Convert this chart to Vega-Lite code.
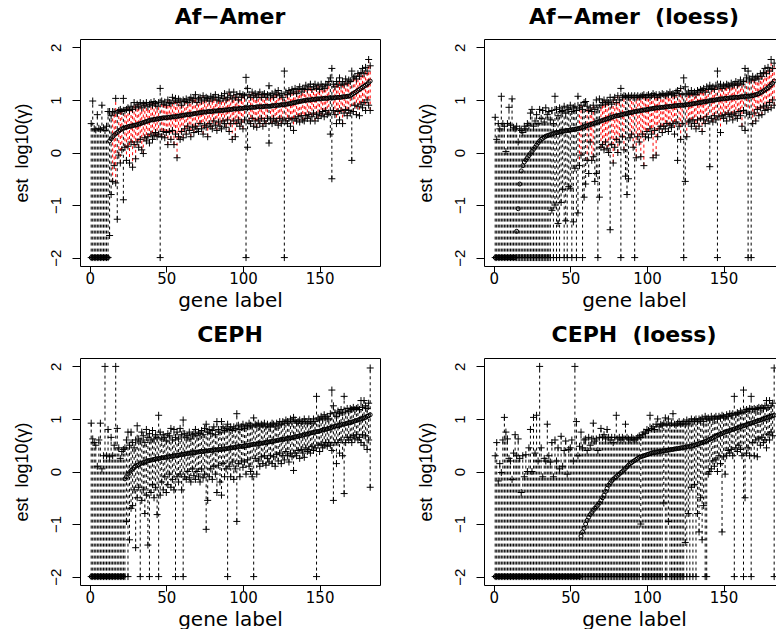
{
"$schema":"https://vega.github.io/schema/vega-lite/v6.json",
"padding":{"left":12,"top":5,"right":0,"bottom":0},
"background":"white",
"config":{"view":{"stroke":"black","strokeWidth":1},"axis":{"grid":false,"domainColor":"black","tickColor":"black","labelColor":"black","titleColor":"black","titleFontWeight":"normal","domainWidth":1,"tickWidth":1,"labelFlush":false},"axisX":{"labelFont":"DejaVu Sans","labelFontSize":15,"titleFont":"DejaVu Sans","titleFontSize":20},"axisY":{"labelFont":"Liberation Sans","labelFontSize":15,"titleFont":"Liberation Sans","titleFontSize":18}},
"datasets":{
"afamer":[{"g":1,"e":-2,"l":-2,"h":0.55,"c":"k"},{"g":2,"e":-2,"l":-2,"h":0.98,"c":"k"},{"g":3,"e":-2,"l":-2,"h":0.45,"c":"k"},{"g":4,"e":-2,"l":-2,"h":0.43,"c":"k"},{"g":5,"e":-2,"l":-2,"h":0.72,"c":"k"},{"g":6,"e":-2,"l":-2,"h":0.46,"c":"k"},{"g":7,"e":-2,"l":-2,"h":0.44,"c":"k"},{"g":8,"e":-2,"l":-2,"h":0.9,"c":"k"},{"g":9,"e":-2,"l":-2,"h":0.47,"c":"k"},{"g":10,"e":-2,"l":-2,"h":0.42,"c":"k"},{"g":11,"e":-2,"l":-2,"h":0.5,"c":"k"},{"g":12,"e":-2,"l":-2,"h":0.78,"c":"k"},{"g":13,"e":0.22,"l":-1.58,"h":0.78,"c":"k"},{"g":14,"e":0.26,"l":-0.8,"h":0.7,"c":"k"},{"g":15,"e":0.3,"l":-0.55,"h":0.78,"c":"r"},{"g":16,"e":0.33,"l":-0.25,"h":0.77,"c":"r"},{"g":17,"e":0.36,"l":-0.58,"h":1.03,"c":"r"},{"g":18,"e":0.38,"l":-1.27,"h":0.75,"c":"k"},{"g":19,"e":0.41,"l":-0.05,"h":0.8,"c":"r"},{"g":20,"e":0.43,"l":-0.2,"h":0.82,"c":"r"},{"g":21,"e":0.45,"l":0.05,"h":0.78,"c":"r"},{"g":22,"e":0.46,"l":-0.9,"h":1.03,"c":"k"},{"g":23,"e":0.47,"l":0.1,"h":0.8,"c":"r"},{"g":24,"e":0.48,"l":-0.15,"h":0.82,"c":"r"},{"g":25,"e":0.49,"l":0.12,"h":0.85,"c":"r"},{"g":26,"e":0.5,"l":-0.2,"h":0.8,"c":"r"},{"g":27,"e":0.5,"l":0.2,"h":0.88,"c":"r"},{"g":28,"e":0.51,"l":-0.28,"h":0.82,"c":"r"},{"g":29,"e":0.52,"l":0.15,"h":0.95,"c":"r"},{"g":30,"e":0.52,"l":-0.12,"h":0.85,"c":"r"},{"g":31,"e":0.53,"l":0.2,"h":0.92,"c":"r"},{"g":32,"e":0.54,"l":0.1,"h":0.88,"c":"r"},{"g":33,"e":0.55,"l":0.25,"h":0.95,"c":"r"},{"g":34,"e":0.56,"l":0.05,"h":0.85,"c":"r"},{"g":35,"e":0.57,"l":-0.02,"h":0.93,"c":"r"},{"g":36,"e":0.58,"l":0.28,"h":0.9,"c":"r"},{"g":37,"e":0.59,"l":0.22,"h":0.95,"c":"r"},{"g":38,"e":0.6,"l":0.3,"h":0.87,"c":"r"},{"g":39,"e":0.61,"l":0.18,"h":0.92,"c":"r"},{"g":40,"e":0.62,"l":0.35,"h":0.95,"c":"r"},{"g":41,"e":0.62,"l":0.25,"h":0.9,"c":"r"},{"g":42,"e":0.63,"l":0.32,"h":0.97,"c":"r"},{"g":43,"e":0.63,"l":0.38,"h":0.93,"c":"r"},{"g":44,"e":0.64,"l":0.3,"h":0.88,"c":"r"},{"g":45,"e":0.64,"l":0.35,"h":0.95,"c":"r"},{"g":46,"e":0.65,"l":-2,"h":1.22,"c":"k"},{"g":47,"e":0.65,"l":0.3,"h":0.98,"c":"r"},{"g":48,"e":0.66,"l":0.4,"h":0.92,"c":"r"},{"g":49,"e":0.66,"l":0.28,"h":0.96,"c":"r"},{"g":50,"e":0.66,"l":0.38,"h":0.9,"c":"r"},{"g":51,"e":0.67,"l":0.15,"h":1.0,"c":"r"},{"g":52,"e":0.67,"l":0.4,"h":0.95,"c":"r"},{"g":53,"e":0.67,"l":0.25,"h":0.93,"c":"r"},{"g":54,"e":0.68,"l":0.42,"h":1.05,"c":"r"},{"g":55,"e":0.68,"l":0.15,"h":0.98,"c":"r"},{"g":56,"e":0.68,"l":0.35,"h":1.03,"c":"r"},{"g":57,"e":0.69,"l":-0.1,"h":0.95,"c":"r"},{"g":58,"e":0.69,"l":0.3,"h":1.02,"c":"r"},{"g":59,"e":0.7,"l":0.25,"h":0.98,"c":"r"},{"g":60,"e":0.7,"l":0.4,"h":0.9,"c":"r"},{"g":61,"e":0.71,"l":0.28,"h":1.0,"c":"r"},{"g":62,"e":0.71,"l":0.45,"h":0.97,"c":"r"},{"g":63,"e":0.72,"l":0.35,"h":1.02,"c":"r"},{"g":64,"e":0.72,"l":0.5,"h":0.95,"c":"r"},{"g":65,"e":0.72,"l":0.42,"h":1.0,"c":"r"},{"g":66,"e":0.73,"l":0.3,"h":1.05,"c":"r"},{"g":67,"e":0.73,"l":0.48,"h":0.98,"c":"r"},{"g":68,"e":0.74,"l":0.38,"h":1.03,"c":"r"},{"g":69,"e":0.74,"l":0.5,"h":1.1,"c":"r"},{"g":70,"e":0.75,"l":0.45,"h":0.95,"c":"r"},{"g":71,"e":0.75,"l":0.4,"h":1.02,"c":"r"},{"g":72,"e":0.76,"l":0.55,"h":1.05,"c":"r"},{"g":73,"e":0.76,"l":0.45,"h":0.98,"c":"r"},{"g":74,"e":0.77,"l":0.35,"h":1.08,"c":"r"},{"g":75,"e":0.77,"l":0.52,"h":1.0,"c":"r"},{"g":76,"e":0.77,"l":0.48,"h":1.05,"c":"r"},{"g":77,"e":0.78,"l":0.3,"h":1.03,"c":"r"},{"g":78,"e":0.78,"l":0.55,"h":0.98,"c":"r"},{"g":79,"e":0.78,"l":0.5,"h":1.07,"c":"r"},{"g":80,"e":0.78,"l":0.45,"h":1.02,"c":"r"},{"g":81,"e":0.79,"l":0.6,"h":1.05,"c":"r"},{"g":82,"e":0.79,"l":0.52,"h":1.1,"c":"r"},{"g":83,"e":0.79,"l":0.42,"h":1.0,"c":"r"},{"g":84,"e":0.8,"l":0.58,"h":1.05,"c":"r"},{"g":85,"e":0.8,"l":0.5,"h":0.98,"c":"r"},{"g":86,"e":0.8,"l":0.45,"h":1.08,"c":"r"},{"g":87,"e":0.8,"l":0.6,"h":1.03,"c":"r"},{"g":88,"e":0.81,"l":0.55,"h":1.12,"c":"r"},{"g":89,"e":0.81,"l":0.48,"h":1.0,"c":"r"},{"g":90,"e":0.81,"l":0.62,"h":1.05,"c":"r"},{"g":91,"e":0.82,"l":0.4,"h":1.15,"c":"r"},{"g":92,"e":0.82,"l":0.55,"h":1.08,"c":"r"},{"g":93,"e":0.82,"l":0.25,"h":1.02,"c":"r"},{"g":94,"e":0.83,"l":0.6,"h":1.15,"c":"r"},{"g":95,"e":0.83,"l":0.3,"h":1.05,"c":"r"},{"g":96,"e":0.83,"l":0.55,"h":1.1,"c":"r"},{"g":97,"e":0.83,"l":0.62,"h":1.0,"c":"r"},{"g":98,"e":0.84,"l":0.5,"h":1.12,"c":"r"},{"g":99,"e":0.84,"l":0.58,"h":1.05,"c":"r"},{"g":100,"e":0.84,"l":0.45,"h":1.1,"c":"r"},{"g":101,"e":0.85,"l":0.62,"h":1.08,"c":"r"},{"g":102,"e":0.85,"l":-2,"h":1.43,"c":"k"},{"g":103,"e":0.85,"l":0.1,"h":1.22,"c":"k"},{"g":104,"e":0.85,"l":0.6,"h":1.1,"c":"r"},{"g":105,"e":0.86,"l":0.55,"h":1.05,"c":"r"},{"g":106,"e":0.86,"l":0.65,"h":1.15,"c":"r"},{"g":107,"e":0.86,"l":0.5,"h":1.08,"c":"r"},{"g":108,"e":0.86,"l":0.6,"h":1.12,"c":"r"},{"g":109,"e":0.87,"l":0.48,"h":1.05,"c":"r"},{"g":110,"e":0.87,"l":0.62,"h":1.1,"c":"r"},{"g":111,"e":0.87,"l":0.55,"h":1.15,"c":"r"},{"g":112,"e":0.87,"l":0.65,"h":1.05,"c":"r"},{"g":113,"e":0.87,"l":0.5,"h":1.1,"c":"r"},{"g":114,"e":0.88,"l":0.6,"h":1.12,"c":"r"},{"g":115,"e":0.88,"l":0.55,"h":1.05,"c":"r"},{"g":116,"e":0.88,"l":0.65,"h":1.1,"c":"r"},{"g":117,"e":0.88,"l":0.18,"h":1.27,"c":"k"},{"g":118,"e":0.88,"l":0.62,"h":1.08,"c":"r"},{"g":119,"e":0.89,"l":0.55,"h":1.12,"c":"r"},{"g":120,"e":0.89,"l":0.65,"h":1.05,"c":"r"},{"g":121,"e":0.89,"l":0.58,"h":1.15,"c":"r"},{"g":122,"e":0.9,"l":0.6,"h":1.1,"c":"r"},{"g":123,"e":0.9,"l":0.52,"h":1.18,"c":"r"},{"g":124,"e":0.9,"l":0.65,"h":1.08,"c":"r"},{"g":125,"e":0.91,"l":0.55,"h":1.12,"c":"r"},{"g":126,"e":0.91,"l":0.62,"h":1.05,"c":"r"},{"g":127,"e":0.91,"l":-2,"h":1.55,"c":"k"},{"g":128,"e":0.92,"l":0.6,"h":1.15,"c":"r"},{"g":129,"e":0.92,"l":0.55,"h":1.1,"c":"r"},{"g":130,"e":0.93,"l":0.65,"h":1.18,"c":"r"},{"g":131,"e":0.93,"l":0.5,"h":1.12,"c":"r"},{"g":132,"e":0.94,"l":0.62,"h":1.2,"c":"r"},{"g":133,"e":0.95,"l":0.42,"h":1.15,"c":"r"},{"g":134,"e":0.95,"l":0.65,"h":1.22,"c":"r"},{"g":135,"e":0.96,"l":0.6,"h":1.12,"c":"r"},{"g":136,"e":0.97,"l":0.68,"h":1.2,"c":"r"},{"g":137,"e":0.97,"l":0.58,"h":1.25,"c":"r"},{"g":138,"e":0.98,"l":0.7,"h":1.15,"c":"r"},{"g":139,"e":0.98,"l":0.62,"h":1.22,"c":"r"},{"g":140,"e":0.99,"l":0.6,"h":1.2,"c":"r"},{"g":141,"e":0.99,"l":0.7,"h":1.28,"c":"r"},{"g":142,"e":1.0,"l":0.65,"h":1.2,"c":"r"},{"g":143,"e":1.0,"l":0.72,"h":1.25,"c":"r"},{"g":144,"e":1.0,"l":0.6,"h":1.3,"c":"r"},{"g":145,"e":1.01,"l":0.68,"h":1.2,"c":"r"},{"g":146,"e":1.01,"l":0.75,"h":1.25,"c":"r"},{"g":147,"e":1.01,"l":0.6,"h":1.3,"c":"r"},{"g":148,"e":1.02,"l":0.72,"h":1.22,"c":"r"},{"g":149,"e":1.02,"l":0.65,"h":1.28,"c":"r"},{"g":150,"e":1.02,"l":0.75,"h":1.2,"c":"r"},{"g":151,"e":1.02,"l":0.7,"h":1.3,"c":"r"},{"g":152,"e":1.03,"l":0.78,"h":1.25,"c":"r"},{"g":153,"e":1.03,"l":0.68,"h":1.22,"c":"r"},{"g":154,"e":1.03,"l":0.8,"h":1.3,"c":"r"},{"g":155,"e":1.03,"l":0.72,"h":1.28,"c":"r"},{"g":156,"e":1.04,"l":0.75,"h":1.35,"c":"r"},{"g":157,"e":1.04,"l":0.35,"h":1.42,"c":"k"},{"g":158,"e":1.04,"l":-0.5,"h":1.6,"c":"k"},{"g":159,"e":1.04,"l":0.8,"h":1.3,"c":"r"},{"g":160,"e":1.04,"l":0.72,"h":1.25,"c":"r"},{"g":161,"e":1.05,"l":0.55,"h":1.35,"c":"r"},{"g":162,"e":1.05,"l":0.78,"h":1.3,"c":"r"},{"g":163,"e":1.05,"l":0.62,"h":1.42,"c":"r"},{"g":164,"e":1.05,"l":0.8,"h":1.28,"c":"r"},{"g":165,"e":1.06,"l":0.55,"h":1.35,"c":"r"},{"g":166,"e":1.06,"l":0.75,"h":1.3,"c":"r"},{"g":167,"e":1.06,"l":0.82,"h":1.4,"c":"r"},{"g":168,"e":1.07,"l":0.7,"h":1.32,"c":"r"},{"g":169,"e":1.07,"l":0.8,"h":1.38,"c":"r"},{"g":170,"e":1.08,"l":0.75,"h":1.35,"c":"r"},{"g":171,"e":1.1,"l":-0.15,"h":1.55,"c":"k"},{"g":172,"e":1.12,"l":0.78,"h":1.42,"c":"r"},{"g":173,"e":1.14,"l":0.9,"h":1.45,"c":"r"},{"g":174,"e":1.16,"l":0.72,"h":1.4,"c":"r"},{"g":175,"e":1.18,"l":0.88,"h":1.5,"c":"r"},{"g":176,"e":1.2,"l":0.7,"h":1.45,"c":"r"},{"g":177,"e":1.22,"l":0.92,"h":1.52,"c":"r"},{"g":178,"e":1.24,"l":0.85,"h":1.6,"c":"r"},{"g":179,"e":1.26,"l":0.95,"h":1.5,"c":"r"},{"g":180,"e":1.28,"l":0.8,"h":1.62,"c":"r"},{"g":181,"e":1.3,"l":1.0,"h":1.55,"c":"r"},{"g":182,"e":1.33,"l":0.9,"h":1.77,"c":"r"},{"g":183,"e":1.36,"l":0.8,"h":1.65,"c":"r"}],
"afamerl":[{"g":1,"e":-2,"l":-2,"h":0.67,"c":"k"},{"g":2,"e":-2,"l":-2,"h":0.25,"c":"k"},{"g":3,"e":-2,"l":-2,"h":0.55,"c":"k"},{"g":4,"e":-2,"l":-2,"h":0.45,"c":"k"},{"g":5,"e":-2,"l":-2,"h":1.07,"c":"k"},{"g":6,"e":-2,"l":-2,"h":0.55,"c":"k"},{"g":7,"e":-2,"l":-2,"h":0.5,"c":"k"},{"g":8,"e":-2,"l":-2,"h":0.02,"c":"k"},{"g":9,"e":-2,"l":-2,"h":0.55,"c":"k"},{"g":10,"e":-2,"l":-2,"h":0.86,"c":"k"},{"g":11,"e":-2,"l":-2,"h":0.52,"c":"k"},{"g":12,"e":-2,"l":-2,"h":1.02,"c":"k"},{"g":13,"e":-2,"l":-2,"h":0.48,"c":"k"},{"g":14,"e":-2,"l":-2,"h":0.45,"c":"k"},{"g":15,"e":-1.5,"l":-2,"h":0.5,"c":"k"},{"g":16,"e":-1.07,"l":-2,"h":0.2,"c":"k"},{"g":17,"e":-0.6,"l":-2,"h":0.45,"c":"k"},{"g":18,"e":-0.35,"l":-2,"h":0.42,"c":"k"},{"g":19,"e":-0.25,"l":-2,"h":0.38,"c":"k"},{"g":20,"e":-0.18,"l":-2,"h":0.5,"c":"k"},{"g":21,"e":-0.14,"l":-2,"h":0.45,"c":"k"},{"g":22,"e":-0.1,"l":-2,"h":0.55,"c":"k"},{"g":23,"e":-0.06,"l":-2,"h":0.52,"c":"k"},{"g":24,"e":-0.02,"l":-2,"h":0.75,"c":"k"},{"g":25,"e":0.02,"l":-2,"h":0.82,"c":"k"},{"g":26,"e":0.06,"l":-2,"h":0.5,"c":"k"},{"g":27,"e":0.1,"l":-2,"h":0.6,"c":"k"},{"g":28,"e":0.14,"l":-2,"h":0.72,"c":"k"},{"g":29,"e":0.18,"l":-2,"h":0.55,"c":"k"},{"g":30,"e":0.22,"l":-2,"h":0.82,"c":"k"},{"g":31,"e":0.25,"l":-2,"h":0.65,"c":"k"},{"g":32,"e":0.27,"l":-2,"h":0.8,"c":"k"},{"g":33,"e":0.29,"l":-2,"h":0.58,"c":"k"},{"g":34,"e":0.31,"l":-2,"h":0.85,"c":"k"},{"g":35,"e":0.32,"l":-2,"h":0.72,"c":"k"},{"g":36,"e":0.33,"l":-2,"h":0.78,"c":"k"},{"g":37,"e":0.34,"l":-2,"h":0.62,"c":"k"},{"g":38,"e":0.35,"l":-1.1,"h":0.8,"c":"k"},{"g":39,"e":0.36,"l":-2,"h":0.55,"c":"k"},{"g":40,"e":0.37,"l":-1.0,"h":1.07,"c":"k"},{"g":41,"e":0.38,"l":-2,"h":0.82,"c":"k"},{"g":42,"e":0.38,"l":-1.35,"h":0.7,"c":"k"},{"g":43,"e":0.39,"l":-2,"h":0.85,"c":"k"},{"g":44,"e":0.4,"l":-0.95,"h":0.78,"c":"k"},{"g":45,"e":0.4,"l":-0.7,"h":0.8,"c":"k"},{"g":46,"e":0.41,"l":-2,"h":0.88,"c":"k"},{"g":47,"e":0.41,"l":-1.3,"h":0.75,"c":"k"},{"g":48,"e":0.42,"l":-2,"h":0.85,"c":"k"},{"g":49,"e":0.42,"l":-0.65,"h":0.82,"c":"k"},{"g":50,"e":0.43,"l":-0.68,"h":0.9,"c":"k"},{"g":51,"e":0.43,"l":-2,"h":0.78,"c":"k"},{"g":52,"e":0.44,"l":-1.32,"h":0.85,"c":"k"},{"g":53,"e":0.44,"l":-0.3,"h":0.88,"c":"k"},{"g":54,"e":0.45,"l":-2,"h":0.8,"c":"k"},{"g":55,"e":0.45,"l":-1.15,"h":1.07,"c":"k"},{"g":56,"e":0.46,"l":-0.25,"h":0.85,"c":"r"},{"g":57,"e":0.47,"l":-0.05,"h":0.9,"c":"r"},{"g":58,"e":0.48,"l":-2,"h":0.82,"c":"k"},{"g":59,"e":0.49,"l":-0.85,"h":0.95,"c":"k"},{"g":60,"e":0.5,"l":-0.6,"h":0.97,"c":"k"},{"g":61,"e":0.51,"l":-0.15,"h":0.88,"c":"r"},{"g":62,"e":0.52,"l":-0.4,"h":0.8,"c":"k"},{"g":63,"e":0.53,"l":0.2,"h":0.85,"c":"r"},{"g":64,"e":0.54,"l":-0.15,"h":0.78,"c":"r"},{"g":65,"e":0.55,"l":-0.08,"h":0.9,"c":"r"},{"g":66,"e":0.56,"l":-0.55,"h":0.82,"c":"k"},{"g":67,"e":0.57,"l":-0.4,"h":1.0,"c":"k"},{"g":68,"e":0.58,"l":-2,"h":0.85,"c":"k"},{"g":69,"e":0.59,"l":-0.85,"h":1.02,"c":"k"},{"g":70,"e":0.6,"l":0.1,"h":0.9,"c":"r"},{"g":71,"e":0.61,"l":0.15,"h":0.95,"c":"r"},{"g":72,"e":0.62,"l":0.05,"h":1.0,"c":"r"},{"g":73,"e":0.63,"l":0.2,"h":0.92,"c":"r"},{"g":74,"e":0.64,"l":0.08,"h":0.98,"c":"r"},{"g":75,"e":0.65,"l":0.0,"h":0.95,"c":"r"},{"g":76,"e":0.66,"l":-1.47,"h":1.05,"c":"k"},{"g":77,"e":0.67,"l":0.15,"h":0.92,"c":"r"},{"g":78,"e":0.68,"l":-0.2,"h":1.0,"c":"r"},{"g":79,"e":0.69,"l":0.1,"h":1.05,"c":"r"},{"g":80,"e":0.7,"l":0.25,"h":0.95,"c":"r"},{"g":81,"e":0.7,"l":0.0,"h":1.08,"c":"r"},{"g":82,"e":0.71,"l":0.2,"h":1.0,"c":"r"},{"g":83,"e":0.72,"l":-2,"h":1.22,"c":"k"},{"g":84,"e":0.72,"l":0.3,"h":1.05,"c":"r"},{"g":85,"e":0.73,"l":0.05,"h":1.08,"c":"r"},{"g":86,"e":0.74,"l":-0.45,"h":1.07,"c":"k"},{"g":87,"e":0.74,"l":-0.8,"h":1.05,"c":"k"},{"g":88,"e":0.75,"l":-0.5,"h":1.08,"c":"k"},{"g":89,"e":0.76,"l":0.28,"h":1.05,"c":"r"},{"g":90,"e":0.76,"l":0.35,"h":1.08,"c":"r"},{"g":91,"e":0.77,"l":0.1,"h":1.05,"c":"r"},{"g":92,"e":0.78,"l":-2,"h":1.08,"c":"k"},{"g":93,"e":0.78,"l":-0.1,"h":1.05,"c":"r"},{"g":94,"e":0.79,"l":0.3,"h":1.08,"c":"r"},{"g":95,"e":0.79,"l":0.2,"h":1.05,"c":"r"},{"g":96,"e":0.8,"l":-0.08,"h":1.07,"c":"r"},{"g":97,"e":0.8,"l":0.35,"h":1.08,"c":"r"},{"g":98,"e":0.81,"l":-0.25,"h":1.1,"c":"r"},{"g":99,"e":0.81,"l":0.3,"h":1.05,"c":"r"},{"g":100,"e":0.82,"l":0.4,"h":1.08,"c":"r"},{"g":101,"e":0.82,"l":0.28,"h":1.1,"c":"r"},{"g":102,"e":0.83,"l":0.45,"h":1.05,"c":"r"},{"g":103,"e":0.83,"l":0.35,"h":1.08,"c":"r"},{"g":104,"e":0.84,"l":-0.1,"h":1.12,"c":"r"},{"g":105,"e":0.84,"l":0.42,"h":1.08,"c":"r"},{"g":106,"e":0.85,"l":-0.05,"h":1.1,"c":"r"},{"g":107,"e":0.85,"l":0.3,"h":1.05,"c":"r"},{"g":108,"e":0.85,"l":0.45,"h":1.1,"c":"r"},{"g":109,"e":0.86,"l":0.5,"h":1.08,"c":"r"},{"g":110,"e":0.86,"l":0.38,"h":1.12,"c":"r"},{"g":111,"e":0.86,"l":0.5,"h":1.1,"c":"r"},{"g":112,"e":0.87,"l":0.45,"h":1.08,"c":"r"},{"g":113,"e":0.87,"l":0.55,"h":1.12,"c":"r"},{"g":114,"e":0.87,"l":0.4,"h":1.1,"c":"r"},{"g":115,"e":0.88,"l":0.52,"h":1.15,"c":"r"},{"g":116,"e":0.88,"l":0.48,"h":1.1,"c":"r"},{"g":117,"e":0.88,"l":0.55,"h":1.12,"c":"r"},{"g":118,"e":0.89,"l":0.35,"h":1.08,"c":"r"},{"g":119,"e":0.89,"l":0.58,"h":1.15,"c":"r"},{"g":120,"e":0.89,"l":-0.15,"h":1.18,"c":"k"},{"g":121,"e":0.9,"l":0.5,"h":1.12,"c":"r"},{"g":122,"e":0.9,"l":0.25,"h":1.22,"c":"r"},{"g":123,"e":0.9,"l":0.55,"h":1.1,"c":"r"},{"g":124,"e":0.9,"l":-2,"h":1.42,"c":"k"},{"g":125,"e":0.91,"l":-0.55,"h":1.25,"c":"k"},{"g":126,"e":0.91,"l":0.3,"h":1.12,"c":"r"},{"g":127,"e":0.91,"l":0.58,"h":1.15,"c":"r"},{"g":128,"e":0.92,"l":0.6,"h":1.1,"c":"r"},{"g":129,"e":0.92,"l":0.5,"h":1.18,"c":"r"},{"g":130,"e":0.93,"l":0.62,"h":1.12,"c":"r"},{"g":131,"e":0.93,"l":0.55,"h":1.15,"c":"r"},{"g":132,"e":0.94,"l":0.45,"h":1.1,"c":"r"},{"g":133,"e":0.94,"l":0.62,"h":1.18,"c":"r"},{"g":134,"e":0.95,"l":0.5,"h":1.15,"c":"r"},{"g":135,"e":0.95,"l":0.65,"h":1.2,"c":"r"},{"g":136,"e":0.96,"l":0.4,"h":1.18,"c":"r"},{"g":137,"e":0.96,"l":0.62,"h":1.22,"c":"r"},{"g":138,"e":0.97,"l":0.55,"h":1.15,"c":"r"},{"g":139,"e":0.97,"l":0.68,"h":1.25,"c":"r"},{"g":140,"e":0.98,"l":0.6,"h":1.2,"c":"r"},{"g":141,"e":0.98,"l":-0.27,"h":1.28,"c":"k"},{"g":142,"e":0.99,"l":0.65,"h":1.22,"c":"r"},{"g":143,"e":0.99,"l":0.58,"h":1.25,"c":"r"},{"g":144,"e":1.0,"l":0.7,"h":1.2,"c":"r"},{"g":145,"e":1.0,"l":0.62,"h":1.28,"c":"r"},{"g":146,"e":1.01,"l":-2,"h":1.55,"c":"k"},{"g":147,"e":1.01,"l":0.68,"h":1.25,"c":"r"},{"g":148,"e":1.02,"l":0.38,"h":1.3,"c":"r"},{"g":149,"e":1.02,"l":0.7,"h":1.22,"c":"r"},{"g":150,"e":1.02,"l":0.65,"h":1.28,"c":"r"},{"g":151,"e":1.03,"l":0.72,"h":1.25,"c":"r"},{"g":152,"e":1.03,"l":0.6,"h":1.3,"c":"r"},{"g":153,"e":1.03,"l":0.75,"h":1.28,"c":"r"},{"g":154,"e":1.04,"l":0.68,"h":1.25,"c":"r"},{"g":155,"e":1.04,"l":0.72,"h":1.32,"c":"r"},{"g":156,"e":1.04,"l":0.62,"h":1.28,"c":"r"},{"g":157,"e":1.05,"l":0.75,"h":1.3,"c":"r"},{"g":158,"e":1.05,"l":0.7,"h":1.35,"c":"r"},{"g":159,"e":1.05,"l":0.65,"h":1.28,"c":"r"},{"g":160,"e":1.05,"l":0.78,"h":1.32,"c":"r"},{"g":161,"e":1.06,"l":0.7,"h":1.38,"c":"r"},{"g":162,"e":1.06,"l":0.5,"h":1.3,"c":"r"},{"g":163,"e":1.06,"l":0.8,"h":1.35,"c":"r"},{"g":164,"e":1.07,"l":0.42,"h":1.6,"c":"k"},{"g":165,"e":1.07,"l":0.75,"h":1.42,"c":"r"},{"g":166,"e":1.07,"l":-2,"h":1.55,"c":"k"},{"g":167,"e":1.07,"l":0.72,"h":1.4,"c":"r"},{"g":168,"e":1.08,"l":-2,"h":1.38,"c":"k"},{"g":169,"e":1.08,"l":0.55,"h":1.45,"c":"r"},{"g":170,"e":1.09,"l":0.75,"h":1.38,"c":"r"},{"g":171,"e":1.1,"l":0.6,"h":1.42,"c":"r"},{"g":172,"e":1.11,"l":0.82,"h":1.45,"c":"r"},{"g":173,"e":1.12,"l":0.7,"h":1.4,"c":"r"},{"g":174,"e":1.14,"l":0.85,"h":1.5,"c":"r"},{"g":175,"e":1.15,"l":0.72,"h":1.45,"c":"r"},{"g":176,"e":1.17,"l":0.88,"h":1.52,"c":"r"},{"g":177,"e":1.19,"l":0.8,"h":1.6,"c":"r"},{"g":178,"e":1.21,"l":0.9,"h":1.5,"c":"r"},{"g":179,"e":1.23,"l":0.82,"h":1.62,"c":"r"},{"g":180,"e":1.26,"l":0.95,"h":1.55,"c":"r"},{"g":181,"e":1.29,"l":0.85,"h":1.77,"c":"r"},{"g":182,"e":1.32,"l":1.0,"h":1.6,"c":"r"},{"g":183,"e":1.36,"l":0.9,"h":1.7,"c":"r"}],
"ceph":[{"g":1,"e":-2,"l":-2,"h":0.92},{"g":2,"e":-2,"l":-2,"h":0.62},{"g":3,"e":-2,"l":-2,"h":0.55},{"g":4,"e":-2,"l":-2,"h":0.5},{"g":5,"e":-2,"l":-2,"h":0.1},{"g":6,"e":-2,"l":-2,"h":0.6},{"g":7,"e":-2,"l":-2,"h":0.92},{"g":8,"e":-2,"l":-2,"h":0.05},{"g":9,"e":-2,"l":-2,"h":0.3},{"g":10,"e":-2,"l":-2,"h":2.0},{"g":11,"e":-2,"l":-2,"h":0.3},{"g":12,"e":-2,"l":-2,"h":0.8},{"g":13,"e":-2,"l":-2,"h":0.28},{"g":14,"e":-2,"l":-2,"h":0.65},{"g":15,"e":-2,"l":-2,"h":0.3},{"g":16,"e":-2,"l":-2,"h":0.5},{"g":17,"e":-2,"l":-2,"h":2.0},{"g":18,"e":-2,"l":-2,"h":0.82},{"g":19,"e":-2,"l":-2,"h":0.45},{"g":20,"e":-2,"l":-2,"h":0.25},{"g":21,"e":-2,"l":-2,"h":0.38},{"g":22,"e":-2,"l":-2,"h":0.42},{"g":23,"e":-0.14,"l":-2,"h":0.45},{"g":24,"e":-0.1,"l":-0.95,"h":0.6},{"g":25,"e":-0.05,"l":-2,"h":0.75},{"g":26,"e":-0.02,"l":-1.3,"h":0.5},{"g":27,"e":0.02,"l":-0.7,"h":0.75},{"g":28,"e":0.05,"l":-0.65,"h":0.55},{"g":29,"e":0.08,"l":-0.35,"h":0.45},{"g":30,"e":0.1,"l":-1.45,"h":0.6},{"g":31,"e":0.12,"l":-0.5,"h":0.87},{"g":32,"e":0.13,"l":-0.3,"h":0.62},{"g":33,"e":0.15,"l":-2,"h":0.58},{"g":34,"e":0.16,"l":-0.55,"h":0.75},{"g":35,"e":0.17,"l":-0.35,"h":0.68},{"g":36,"e":0.18,"l":-0.8,"h":0.55},{"g":37,"e":0.19,"l":-0.45,"h":0.8},{"g":38,"e":0.2,"l":-1.4,"h":0.65},{"g":39,"e":0.21,"l":-2,"h":0.72},{"g":40,"e":0.22,"l":-0.4,"h":0.6},{"g":41,"e":0.22,"l":-0.25,"h":0.78},{"g":42,"e":0.23,"l":-0.5,"h":0.62},{"g":43,"e":0.24,"l":-0.3,"h":0.7},{"g":44,"e":0.24,"l":-0.82,"h":0.65},{"g":45,"e":0.25,"l":-2,"h":1.07},{"g":46,"e":0.25,"l":-0.45,"h":0.75},{"g":47,"e":0.26,"l":-0.2,"h":0.62},{"g":48,"e":0.26,"l":-0.35,"h":0.7},{"g":49,"e":0.27,"l":-0.1,"h":0.65},{"g":50,"e":0.27,"l":-0.4,"h":0.58},{"g":51,"e":0.28,"l":-0.25,"h":0.72},{"g":52,"e":0.28,"l":-0.05,"h":0.68},{"g":53,"e":0.29,"l":-0.3,"h":0.82},{"g":54,"e":0.29,"l":-0.15,"h":0.6},{"g":55,"e":0.3,"l":-0.35,"h":0.8},{"g":56,"e":0.3,"l":-2,"h":0.65},{"g":57,"e":0.31,"l":-0.1,"h":0.75},{"g":58,"e":0.31,"l":-0.2,"h":0.62},{"g":59,"e":0.32,"l":-0.05,"h":0.82},{"g":60,"e":0.32,"l":-0.35,"h":0.7},{"g":61,"e":0.33,"l":-2,"h":0.98},{"g":62,"e":0.33,"l":-0.1,"h":0.72},{"g":63,"e":0.34,"l":-0.15,"h":0.65},{"g":64,"e":0.34,"l":0.0,"h":0.68},{"g":65,"e":0.35,"l":-0.12,"h":0.75},{"g":66,"e":0.35,"l":-0.2,"h":0.62},{"g":67,"e":0.36,"l":0.05,"h":0.7},{"g":68,"e":0.36,"l":-0.08,"h":0.72},{"g":69,"e":0.36,"l":-0.15,"h":0.8},{"g":70,"e":0.37,"l":0.0,"h":0.68},{"g":71,"e":0.37,"l":-0.1,"h":0.75},{"g":72,"e":0.38,"l":-0.2,"h":0.72},{"g":73,"e":0.38,"l":0.05,"h":0.78},{"g":74,"e":0.38,"l":-0.12,"h":0.7},{"g":75,"e":0.39,"l":-0.05,"h":0.82},{"g":76,"e":0.39,"l":-1.1,"h":0.9},{"g":77,"e":0.39,"l":-0.55,"h":0.75},{"g":78,"e":0.4,"l":-0.1,"h":0.8},{"g":79,"e":0.4,"l":0.05,"h":0.72},{"g":80,"e":0.4,"l":-0.15,"h":0.78},{"g":81,"e":0.41,"l":0.1,"h":0.85},{"g":82,"e":0.41,"l":-0.05,"h":0.7},{"g":83,"e":0.41,"l":-0.4,"h":0.95},{"g":84,"e":0.42,"l":0.12,"h":0.8},{"g":85,"e":0.42,"l":-0.2,"h":0.75},{"g":86,"e":0.42,"l":-0.45,"h":0.95},{"g":87,"e":0.43,"l":0.15,"h":0.85},{"g":88,"e":0.43,"l":-0.1,"h":0.78},{"g":89,"e":0.43,"l":0.05,"h":0.82},{"g":90,"e":0.44,"l":-2,"h":0.9},{"g":91,"e":0.44,"l":0.1,"h":0.8},{"g":92,"e":0.45,"l":-0.1,"h":0.85},{"g":93,"e":0.45,"l":0.18,"h":0.78},{"g":94,"e":0.46,"l":-0.15,"h":0.85},{"g":95,"e":0.46,"l":0.05,"h":0.82},{"g":96,"e":0.47,"l":-0.95,"h":1.1},{"g":97,"e":0.47,"l":0.15,"h":0.88},{"g":98,"e":0.48,"l":-0.1,"h":0.8},{"g":99,"e":0.48,"l":0.2,"h":0.85},{"g":100,"e":0.48,"l":0.08,"h":0.9},{"g":101,"e":0.49,"l":0.18,"h":0.82},{"g":102,"e":0.49,"l":-0.05,"h":0.88},{"g":103,"e":0.5,"l":0.22,"h":0.85},{"g":104,"e":0.5,"l":0.1,"h":0.92},{"g":105,"e":0.51,"l":0.0,"h":0.88},{"g":106,"e":0.51,"l":-0.1,"h":0.85},{"g":107,"e":0.52,"l":-2,"h":1.02},{"g":108,"e":0.52,"l":0.25,"h":0.9},{"g":109,"e":0.52,"l":-0.05,"h":0.88},{"g":110,"e":0.53,"l":0.2,"h":0.92},{"g":111,"e":0.53,"l":0.1,"h":0.85},{"g":112,"e":0.54,"l":0.28,"h":0.9},{"g":113,"e":0.54,"l":0.15,"h":0.88},{"g":114,"e":0.55,"l":0.3,"h":0.92},{"g":115,"e":0.55,"l":0.12,"h":0.85},{"g":116,"e":0.56,"l":0.25,"h":0.9},{"g":117,"e":0.56,"l":0.18,"h":0.85},{"g":118,"e":0.57,"l":0.3,"h":0.88},{"g":119,"e":0.57,"l":0.15,"h":0.92},{"g":120,"e":0.58,"l":0.28,"h":0.9},{"g":121,"e":0.58,"l":0.1,"h":0.85},{"g":122,"e":0.59,"l":0.32,"h":0.92},{"g":123,"e":0.6,"l":0.2,"h":0.88},{"g":124,"e":0.6,"l":0.35,"h":0.95},{"g":125,"e":0.61,"l":0.15,"h":0.9},{"g":126,"e":0.61,"l":0.3,"h":0.95},{"g":127,"e":0.62,"l":0.22,"h":0.92},{"g":128,"e":0.62,"l":0.38,"h":0.98},{"g":129,"e":0.63,"l":0.3,"h":0.95},{"g":130,"e":0.63,"l":0.18,"h":0.92},{"g":131,"e":0.64,"l":0.35,"h":1.0},{"g":132,"e":0.64,"l":0.28,"h":0.95},{"g":133,"e":0.65,"l":0.02,"h":1.03},{"g":134,"e":0.66,"l":0.35,"h":0.98},{"g":135,"e":0.66,"l":0.3,"h":0.92},{"g":136,"e":0.67,"l":0.4,"h":0.95},{"g":137,"e":0.68,"l":0.25,"h":0.98},{"g":138,"e":0.68,"l":0.42,"h":0.92},{"g":139,"e":0.69,"l":0.35,"h":0.95},{"g":140,"e":0.7,"l":0.27,"h":1.0},{"g":141,"e":0.71,"l":0.45,"h":0.95},{"g":142,"e":0.71,"l":0.38,"h":0.92},{"g":143,"e":0.72,"l":0.42,"h":1.0},{"g":144,"e":0.73,"l":0.35,"h":0.95},{"g":145,"e":0.74,"l":0.48,"h":0.92},{"g":146,"e":0.74,"l":0.4,"h":1.0},{"g":147,"e":0.75,"l":0.45,"h":0.95},{"g":148,"e":0.76,"l":-2,"h":1.43},{"g":149,"e":0.76,"l":0.5,"h":1.02},{"g":150,"e":0.77,"l":0.38,"h":0.98},{"g":151,"e":0.78,"l":0.52,"h":1.05},{"g":152,"e":0.79,"l":0.45,"h":1.0},{"g":153,"e":0.8,"l":0.5,"h":1.08},{"g":154,"e":0.8,"l":0.55,"h":1.02},{"g":155,"e":0.81,"l":0.48,"h":1.05},{"g":156,"e":0.82,"l":0.55,"h":1.0},{"g":157,"e":0.83,"l":0.5,"h":1.1},{"g":158,"e":0.84,"l":0.4,"h":1.55},{"g":159,"e":0.85,"l":-0.55,"h":1.25},{"g":160,"e":0.86,"l":0.55,"h":1.12},{"g":161,"e":0.87,"l":0.15,"h":1.05},{"g":162,"e":0.87,"l":0.55,"h":1.15},{"g":163,"e":0.88,"l":0.35,"h":1.1},{"g":164,"e":0.89,"l":0.6,"h":1.18},{"g":165,"e":0.9,"l":0.3,"h":1.12},{"g":166,"e":0.9,"l":-0.42,"h":1.43},{"g":167,"e":0.91,"l":0.55,"h":1.15},{"g":168,"e":0.92,"l":0.65,"h":1.2},{"g":169,"e":0.93,"l":0.6,"h":1.15},{"g":170,"e":0.93,"l":0.65,"h":1.2},{"g":171,"e":0.94,"l":0.55,"h":1.18},{"g":172,"e":0.95,"l":0.68,"h":1.22},{"g":173,"e":0.96,"l":0.62,"h":1.18},{"g":174,"e":0.97,"l":0.7,"h":1.2},{"g":175,"e":0.98,"l":0.6,"h":1.22},{"g":176,"e":0.99,"l":0.65,"h":1.18},{"g":177,"e":1.0,"l":0.55,"h":1.35},{"g":178,"e":1.01,"l":0.7,"h":1.22},{"g":179,"e":1.02,"l":0.5,"h":1.35},{"g":180,"e":1.03,"l":0.68,"h":1.25},{"g":181,"e":1.05,"l":0.42,"h":1.2},{"g":182,"e":1.06,"l":0.6,"h":1.3},{"g":183,"e":1.08,"l":-0.3,"h":1.97}],
"cephl":[{"g":1,"e":-2,"l":-2,"h":0.3},{"g":2,"e":-2,"l":-2,"h":0.55},{"g":3,"e":-2,"l":-2,"h":-0.18},{"g":4,"e":-2,"l":-2,"h":0.15},{"g":5,"e":-2,"l":-2,"h":-0.02},{"g":6,"e":-2,"l":-2,"h":0.6},{"g":7,"e":-2,"l":-2,"h":1.03},{"g":8,"e":-2,"l":-2,"h":0.75},{"g":9,"e":-2,"l":-2,"h":0.62},{"g":10,"e":-2,"l":-2,"h":0.25},{"g":11,"e":-2,"l":-2,"h":0.2},{"g":12,"e":-2,"l":-2,"h":-0.15},{"g":13,"e":-2,"l":-2,"h":0.35},{"g":14,"e":-2,"l":-2,"h":0.7},{"g":15,"e":-2,"l":-2,"h":0.3},{"g":16,"e":-2,"l":-2,"h":0.62},{"g":17,"e":-2,"l":-2,"h":0.25},{"g":18,"e":-2,"l":-2,"h":-0.4},{"g":19,"e":-2,"l":-2,"h":0.3},{"g":20,"e":-2,"l":-2,"h":-0.1},{"g":21,"e":-2,"l":-2,"h":0.32},{"g":22,"e":-2,"l":-2,"h":0.0},{"g":23,"e":-2,"l":-2,"h":0.45},{"g":24,"e":-2,"l":-2,"h":0.8},{"g":25,"e":-2,"l":-2,"h":0.0},{"g":26,"e":-2,"l":-2,"h":1.03},{"g":27,"e":-2,"l":-2,"h":0.35},{"g":28,"e":-2,"l":-2,"h":1.07},{"g":29,"e":-2,"l":-2,"h":0.2},{"g":30,"e":-2,"l":-2,"h":2.0},{"g":31,"e":-2,"l":-2,"h":0.45},{"g":32,"e":-2,"l":-2,"h":-0.1},{"g":33,"e":-2,"l":-2,"h":0.25},{"g":34,"e":-2,"l":-2,"h":0.2},{"g":35,"e":-2,"l":-2,"h":0.9},{"g":36,"e":-2,"l":-2,"h":0.3},{"g":37,"e":-2,"l":-2,"h":0.18},{"g":38,"e":-2,"l":-2,"h":0.55},{"g":39,"e":-2,"l":-2,"h":-0.1},{"g":40,"e":-2,"l":-2,"h":0.6},{"g":41,"e":-2,"l":-2,"h":0.2},{"g":42,"e":-2,"l":-2,"h":0.45},{"g":43,"e":-2,"l":-2,"h":0.05},{"g":44,"e":-2,"l":-2,"h":0.67},{"g":45,"e":-2,"l":-2,"h":0.1},{"g":46,"e":-2,"l":-2,"h":0.4},{"g":47,"e":-2,"l":-2,"h":0.58},{"g":48,"e":-2,"l":-2,"h":-0.05},{"g":49,"e":-2,"l":-2,"h":0.42},{"g":50,"e":-2,"l":-2,"h":0.45},{"g":51,"e":-2,"l":-2,"h":0.6},{"g":52,"e":-2,"l":-2,"h":0.2},{"g":53,"e":-2,"l":-2,"h":2.0},{"g":54,"e":-2,"l":-2,"h":0.95},{"g":55,"e":-2,"l":-2,"h":0.3},{"g":56,"e":-2,"l":-2,"h":0.48},{"g":57,"e":-1.23,"l":-2,"h":0.75},{"g":58,"e":-1.15,"l":-2,"h":0.45},{"g":59,"e":-1.08,"l":-2,"h":0.6},{"g":60,"e":-1.0,"l":-2,"h":0.62},{"g":61,"e":-0.93,"l":-2,"h":0.4},{"g":62,"e":-0.87,"l":-2,"h":0.65},{"g":63,"e":-0.82,"l":-2,"h":0.5},{"g":64,"e":-0.78,"l":-2,"h":0.62},{"g":65,"e":-0.74,"l":-2,"h":0.92},{"g":66,"e":-0.7,"l":-2,"h":0.58},{"g":67,"e":-0.67,"l":-2,"h":0.62},{"g":68,"e":-0.64,"l":-2,"h":0.4},{"g":69,"e":-0.6,"l":-2,"h":0.65},{"g":70,"e":-0.55,"l":-2,"h":0.82},{"g":71,"e":-0.5,"l":-2,"h":0.65},{"g":72,"e":-0.45,"l":-2,"h":0.7},{"g":73,"e":-0.38,"l":-2,"h":0.62},{"g":74,"e":-0.32,"l":-2,"h":0.8},{"g":75,"e":-0.26,"l":-2,"h":0.65},{"g":76,"e":-0.22,"l":-2,"h":0.6},{"g":77,"e":-0.18,"l":-2,"h":0.65},{"g":78,"e":-0.15,"l":-2,"h":0.55},{"g":79,"e":-0.12,"l":-2,"h":0.65},{"g":80,"e":-0.1,"l":-2,"h":1.07},{"g":81,"e":-0.07,"l":-2,"h":0.62},{"g":82,"e":-0.05,"l":-2,"h":0.65},{"g":83,"e":-0.02,"l":-2,"h":0.6},{"g":84,"e":0.0,"l":-2,"h":0.65},{"g":85,"e":0.03,"l":-2,"h":0.62},{"g":86,"e":0.06,"l":-2,"h":0.9},{"g":87,"e":0.09,"l":-2,"h":0.65},{"g":88,"e":0.12,"l":-2,"h":0.62},{"g":89,"e":0.15,"l":-2,"h":0.6},{"g":90,"e":0.17,"l":-2,"h":0.65},{"g":91,"e":0.19,"l":-2,"h":0.62},{"g":92,"e":0.21,"l":-2,"h":0.6},{"g":93,"e":0.23,"l":-2,"h":0.62},{"g":94,"e":0.25,"l":-2,"h":0.65},{"g":95,"e":0.27,"l":-2,"h":0.68},{"g":96,"e":0.28,"l":-1.0,"h":0.65},{"g":97,"e":0.29,"l":-2,"h":0.7},{"g":98,"e":0.3,"l":-2,"h":0.75},{"g":99,"e":0.31,"l":-2,"h":0.72},{"g":100,"e":0.32,"l":-2,"h":0.8},{"g":101,"e":0.33,"l":-2,"h":0.78},{"g":102,"e":0.34,"l":-2,"h":1.07},{"g":103,"e":0.35,"l":-2,"h":0.82},{"g":104,"e":0.36,"l":-2,"h":0.85},{"g":105,"e":0.36,"l":-2,"h":0.8},{"g":106,"e":0.37,"l":-2,"h":0.9},{"g":107,"e":0.37,"l":-2,"h":1.0},{"g":108,"e":0.38,"l":-2,"h":0.85},{"g":109,"e":0.38,"l":-2,"h":0.9},{"g":110,"e":0.39,"l":-2,"h":0.88},{"g":111,"e":0.39,"l":-0.6,"h":0.92},{"g":112,"e":0.4,"l":-2,"h":1.02},{"g":113,"e":0.4,"l":-2,"h":0.9},{"g":114,"e":0.41,"l":-0.95,"h":1.0},{"g":115,"e":0.41,"l":-2,"h":0.88},{"g":116,"e":0.42,"l":-2,"h":0.92},{"g":117,"e":0.42,"l":-2,"h":1.1},{"g":118,"e":0.43,"l":-2,"h":0.9},{"g":119,"e":0.43,"l":-2,"h":0.88},{"g":120,"e":0.44,"l":-2,"h":0.92},{"g":121,"e":0.44,"l":-2,"h":0.95},{"g":122,"e":0.45,"l":-2,"h":0.9},{"g":123,"e":0.45,"l":-2,"h":0.92},{"g":124,"e":0.46,"l":-2,"h":0.95},{"g":125,"e":0.46,"l":-1.35,"h":0.9},{"g":126,"e":0.47,"l":-2,"h":0.98},{"g":127,"e":0.47,"l":-0.8,"h":0.92},{"g":128,"e":0.48,"l":-2,"h":0.95},{"g":129,"e":0.48,"l":-0.3,"h":1.0},{"g":130,"e":0.49,"l":-2,"h":0.95},{"g":131,"e":0.5,"l":-0.25,"h":0.98},{"g":132,"e":0.51,"l":-2,"h":1.0},{"g":133,"e":0.52,"l":-0.8,"h":0.95},{"g":134,"e":0.53,"l":-1.15,"h":1.0},{"g":135,"e":0.54,"l":-0.5,"h":0.98},{"g":136,"e":0.55,"l":-1.3,"h":1.02},{"g":137,"e":0.56,"l":-0.65,"h":0.95},{"g":138,"e":0.57,"l":-2,"h":1.05},{"g":139,"e":0.58,"l":-2,"h":1.0},{"g":140,"e":0.6,"l":-0.05,"h":1.02},{"g":141,"e":0.61,"l":0.0,"h":0.98},{"g":142,"e":0.63,"l":0.05,"h":1.05},{"g":143,"e":0.64,"l":0.2,"h":1.0},{"g":144,"e":0.66,"l":0.1,"h":1.02},{"g":145,"e":0.67,"l":0.22,"h":1.05},{"g":146,"e":0.69,"l":0.0,"h":1.0},{"g":147,"e":0.7,"l":0.3,"h":1.05},{"g":148,"e":0.71,"l":0.15,"h":1.02},{"g":149,"e":0.72,"l":-1.15,"h":1.07},{"g":150,"e":0.74,"l":0.28,"h":1.05},{"g":151,"e":0.75,"l":-0.05,"h":1.02},{"g":152,"e":0.76,"l":0.3,"h":1.08},{"g":153,"e":0.77,"l":0.4,"h":1.05},{"g":154,"e":0.78,"l":0.35,"h":1.1},{"g":155,"e":0.79,"l":0.42,"h":1.07},{"g":156,"e":0.8,"l":0.3,"h":1.1},{"g":157,"e":0.81,"l":-2,"h":1.43},{"g":158,"e":0.82,"l":0.45,"h":1.08},{"g":159,"e":0.83,"l":0.38,"h":1.12},{"g":160,"e":0.84,"l":0.5,"h":1.1},{"g":161,"e":0.85,"l":0.42,"h":1.15},{"g":162,"e":0.86,"l":0.3,"h":1.12},{"g":163,"e":0.87,"l":-2,"h":1.55},{"g":164,"e":0.88,"l":-0.5,"h":1.15},{"g":165,"e":0.89,"l":0.35,"h":1.18},{"g":166,"e":0.9,"l":0.45,"h":1.15},{"g":167,"e":0.91,"l":0.3,"h":1.2},{"g":168,"e":0.92,"l":-2,"h":1.43},{"g":169,"e":0.93,"l":0.55,"h":1.18},{"g":170,"e":0.94,"l":0.3,"h":1.2},{"g":171,"e":0.95,"l":0.6,"h":1.18},{"g":172,"e":0.96,"l":0.28,"h":1.2},{"g":173,"e":0.97,"l":0.62,"h":1.22},{"g":174,"e":0.98,"l":0.5,"h":1.2},{"g":175,"e":0.99,"l":0.65,"h":1.22},{"g":176,"e":1.0,"l":0.55,"h":1.2},{"g":177,"e":1.01,"l":0.6,"h":1.25},{"g":178,"e":1.02,"l":0.45,"h":1.35},{"g":179,"e":1.03,"l":0.7,"h":1.22},{"g":180,"e":1.04,"l":0.6,"h":1.35},{"g":181,"e":1.05,"l":0.75,"h":1.25},{"g":182,"e":1.06,"l":0.68,"h":1.3},{"g":183,"e":1.07,"l":-2,"h":1.97}]
},
"columns":2,
"spacing":{"row":92,"column":104},
"bounds":"flush",
"concat":[
{"width":300,"height":227,"data":{"name":"afamer"},
"title":{"text":"Af−Amer","font":"DejaVu Sans","fontSize":22,"fontWeight":"bold","offset":10,"frame":"group","anchor":"middle","color":"black"},
"resolve":{"axis":{"x":"independent"}},
"layer":[
{"mark":{"type":"rule","strokeDash":[3,3],"strokeWidth":1},"encoding":{"x":{"field":"g","type":"quantitative","scale":{"domain":[-6.3,189.4],"nice":false,"zero":false},"axis":{"values":[0,50,100,150],"tickSize":6,"labelPadding":11,"labelBaseline":"alphabetic","titleY":40,"titleBaseline":"alphabetic","title":"gene label","domain":false}},"y":{"field":"l","type":"quantitative","title":"est\u00a0\u00a0log10(γ)","scale":{"domain":[-2.16,2.16],"nice":false,"zero":false},"axis":{"values":[-2,-1,0,1,2],"tickSize":8,"labelAngle":-90,"labelAlign":"center","labelBaseline":"alphabetic","labelPadding":12,"titleAngle":-90,"titleBaseline":"alphabetic","titleAlign":"center","titleX":-53,"domain":false}},"y2":{"field":"h"},"color":{"field":"c","type":"nominal","scale":{"domain":["k","r"],"range":["#000000","#ff0000"]},"legend":null}}},
{"mark":{"type":"point","shape":"M-1,0L1,0M0,-1L0,1","size":49,"strokeWidth":1,"filled":false,"color":"black","opacity":1},"encoding":{"x":{"field":"g","type":"quantitative","axis":null},"y":{"field":"l","type":"quantitative","title":"est\u00a0\u00a0log10(γ)"}}},
{"mark":{"type":"point","shape":"M-1,0L1,0M0,-1L0,1","size":49,"strokeWidth":1,"filled":false,"color":"black","opacity":1},"encoding":{"x":{"field":"g","type":"quantitative","axis":null},"y":{"field":"h","type":"quantitative","title":"est\u00a0\u00a0log10(γ)"}}},
{"mark":{"type":"point","shape":"circle","size":16,"strokeWidth":1,"filled":false,"color":"black","opacity":1},"encoding":{"x":{"field":"g","type":"quantitative","axis":null},"y":{"field":"e","type":"quantitative","title":"est\u00a0\u00a0log10(γ)"}}}
]},
{"width":292,"height":227,"data":{"name":"afamerl"},"view":{"stroke":null},
"title":{"text":"Af−Amer\u00a0\u00a0(loess)","font":"DejaVu Sans","fontSize":22,"fontWeight":"bold","offset":10,"frame":"group","anchor":"middle","dx":4,"color":"black"},
"resolve":{"axis":{"x":"independent"}},
"layer":[
{"mark":{"type":"rule","strokeDash":[3,3],"strokeWidth":1,"clip":true},"encoding":{"x":{"field":"g","type":"quantitative","scale":{"domain":[-6.3,184.2],"nice":false,"zero":false},"axis":{"values":[0,50,100,150],"tickSize":6,"labelPadding":11,"labelBaseline":"alphabetic","titleY":40,"titleX":150,"titleBaseline":"alphabetic","title":"gene label","domain":true}},"y":{"field":"l","type":"quantitative","title":"est\u00a0\u00a0log10(γ)","scale":{"domain":[-2.16,2.16],"nice":false,"zero":false},"axis":{"values":[-2,-1,0,1,2],"tickSize":8,"labelAngle":-90,"labelAlign":"center","labelBaseline":"alphabetic","labelPadding":12,"titleAngle":-90,"titleBaseline":"alphabetic","titleAlign":"center","titleX":-53,"domain":true}},"y2":{"field":"h"},"color":{"field":"c","type":"nominal","scale":{"domain":["k","r"],"range":["#000000","#ff0000"]},"legend":null}}},
{"mark":{"type":"point","shape":"M-1,0L1,0M0,-1L0,1","size":49,"strokeWidth":1,"filled":false,"color":"black","opacity":1,"clip":true},"encoding":{"x":{"field":"g","type":"quantitative","axis":null},"y":{"field":"l","type":"quantitative","title":"est\u00a0\u00a0log10(γ)"}}},
{"mark":{"type":"point","shape":"M-1,0L1,0M0,-1L0,1","size":49,"strokeWidth":1,"filled":false,"color":"black","opacity":1,"clip":true},"encoding":{"x":{"field":"g","type":"quantitative","axis":null},"y":{"field":"h","type":"quantitative","title":"est\u00a0\u00a0log10(γ)"}}},
{"mark":{"type":"point","shape":"circle","size":16,"strokeWidth":1,"filled":false,"color":"black","opacity":1,"clip":true},"encoding":{"x":{"field":"g","type":"quantitative","axis":{"orient":"top","ticks":false,"labels":false,"title":null,"domain":true}},"y":{"field":"e","type":"quantitative","title":"est\u00a0\u00a0log10(γ)"}}}
]},
{"width":300,"height":227,"data":{"name":"ceph"},
"title":{"text":"CEPH","font":"DejaVu Sans","fontSize":22,"fontWeight":"bold","offset":11,"frame":"group","anchor":"middle","color":"black"},
"resolve":{"axis":{"x":"independent"}},
"layer":[
{"mark":{"type":"rule","strokeDash":[3,3],"strokeWidth":1,"color":"black"},"encoding":{"x":{"field":"g","type":"quantitative","scale":{"domain":[-6.3,189.4],"nice":false,"zero":false},"axis":{"values":[0,50,100,150],"tickSize":6,"labelPadding":11,"labelBaseline":"alphabetic","titleY":40,"titleBaseline":"alphabetic","title":"gene label","domain":false}},"y":{"field":"l","type":"quantitative","title":"est\u00a0\u00a0log10(γ)","scale":{"domain":[-2.16,2.16],"nice":false,"zero":false},"axis":{"values":[-2,-1,0,1,2],"tickSize":8,"labelAngle":-90,"labelAlign":"center","labelBaseline":"alphabetic","labelPadding":12,"titleAngle":-90,"titleBaseline":"alphabetic","titleAlign":"center","titleX":-53,"domain":false}},"y2":{"field":"h"}}},
{"mark":{"type":"point","shape":"M-1,0L1,0M0,-1L0,1","size":49,"strokeWidth":1,"filled":false,"color":"black","opacity":1},"encoding":{"x":{"field":"g","type":"quantitative","axis":null},"y":{"field":"l","type":"quantitative","title":"est\u00a0\u00a0log10(γ)"}}},
{"mark":{"type":"point","shape":"M-1,0L1,0M0,-1L0,1","size":49,"strokeWidth":1,"filled":false,"color":"black","opacity":1},"encoding":{"x":{"field":"g","type":"quantitative","axis":null},"y":{"field":"h","type":"quantitative","title":"est\u00a0\u00a0log10(γ)"}}},
{"mark":{"type":"point","shape":"circle","size":16,"strokeWidth":1,"filled":false,"color":"black","opacity":1},"encoding":{"x":{"field":"g","type":"quantitative","axis":null},"y":{"field":"e","type":"quantitative","title":"est\u00a0\u00a0log10(γ)"}}}
]},
{"width":292,"height":227,"data":{"name":"cephl"},"view":{"stroke":null},
"title":{"text":"CEPH\u00a0\u00a0(loess)","font":"DejaVu Sans","fontSize":22,"fontWeight":"bold","offset":11,"frame":"group","anchor":"middle","dx":4,"color":"black"},
"resolve":{"axis":{"x":"independent"}},
"layer":[
{"mark":{"type":"rule","strokeDash":[3,3],"strokeWidth":1,"color":"black","clip":true},"encoding":{"x":{"field":"g","type":"quantitative","scale":{"domain":[-6.3,184.2],"nice":false,"zero":false},"axis":{"values":[0,50,100,150],"tickSize":6,"labelPadding":11,"labelBaseline":"alphabetic","titleY":40,"titleX":150,"titleBaseline":"alphabetic","title":"gene label","domain":true}},"y":{"field":"l","type":"quantitative","title":"est\u00a0\u00a0log10(γ)","scale":{"domain":[-2.16,2.16],"nice":false,"zero":false},"axis":{"values":[-2,-1,0,1,2],"tickSize":8,"labelAngle":-90,"labelAlign":"center","labelBaseline":"alphabetic","labelPadding":12,"titleAngle":-90,"titleBaseline":"alphabetic","titleAlign":"center","titleX":-53,"domain":true}},"y2":{"field":"h"}}},
{"mark":{"type":"point","shape":"M-1,0L1,0M0,-1L0,1","size":49,"strokeWidth":1,"filled":false,"color":"black","opacity":1,"clip":true},"encoding":{"x":{"field":"g","type":"quantitative","axis":null},"y":{"field":"l","type":"quantitative","title":"est\u00a0\u00a0log10(γ)"}}},
{"mark":{"type":"point","shape":"M-1,0L1,0M0,-1L0,1","size":49,"strokeWidth":1,"filled":false,"color":"black","opacity":1,"clip":true},"encoding":{"x":{"field":"g","type":"quantitative","axis":null},"y":{"field":"h","type":"quantitative","title":"est\u00a0\u00a0log10(γ)"}}},
{"mark":{"type":"point","shape":"circle","size":16,"strokeWidth":1,"filled":false,"color":"black","opacity":1,"clip":true},"encoding":{"x":{"field":"g","type":"quantitative","axis":{"orient":"top","ticks":false,"labels":false,"title":null,"domain":true}},"y":{"field":"e","type":"quantitative","title":"est\u00a0\u00a0log10(γ)"}}}
]}
]
}
